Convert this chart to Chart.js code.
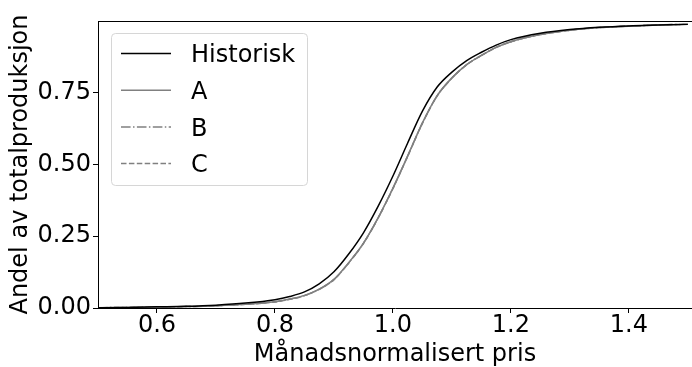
<!DOCTYPE html>
<html>
<head>
<meta charset="utf-8">
<script src="https://cdn.jsdelivr.net/npm/chart.js@4/dist/chart.umd.min.js"></script>
<style>
  html, body { margin: 0; padding: 0; background: #fff; }
  #cdfChart { display: block; }
</style>
</head>
<body>
<canvas id="cdfChart" width="692" height="367"></canvas>
<script>
// Monthly normalised price vs. cumulative share of total production

const prices = [0.50, 0.55, 0.60, 0.65, 0.70, 0.75, 0.80, 0.825, 0.85, 0.875, 0.90, 0.925, 0.95, 0.975,
    1.00, 1.025, 1.05, 1.075, 1.10, 1.125, 1.15, 1.175, 1.20, 1.25, 1.30, 1.35, 1.40, 1.45, 1.50];

const historisk = [0.001, 0.002, 0.004, 0.006, 0.010, 0.017, 0.029, 0.040, 0.056, 0.084, 0.126, 0.188, 0.262, 0.355,
    0.460, 0.575, 0.686, 0.770, 0.822, 0.862, 0.891, 0.916, 0.935, 0.957, 0.970, 0.978, 0.983, 0.986, 0.989];

const scenarioA = [0.001, 0.002, 0.003, 0.005, 0.008, 0.013, 0.022, 0.031, 0.044, 0.066, 0.100, 0.158, 0.226, 0.315,
    0.418, 0.530, 0.645, 0.740, 0.802, 0.848, 0.880, 0.908, 0.928, 0.953, 0.968, 0.977, 0.982, 0.986, 0.989];

const scenarioB = [0.001, 0.002, 0.003, 0.005, 0.008, 0.013, 0.022, 0.031, 0.043, 0.065, 0.099, 0.157, 0.225, 0.314,
    0.417, 0.529, 0.644, 0.739, 0.801, 0.848, 0.880, 0.908, 0.928, 0.953, 0.968, 0.977, 0.982, 0.986, 0.989];

const scenarioC = [0.001, 0.002, 0.003, 0.005, 0.008, 0.013, 0.021, 0.030, 0.043, 0.065, 0.099, 0.157, 0.225, 0.314,
    0.416, 0.529, 0.644, 0.739, 0.801, 0.847, 0.880, 0.908, 0.928, 0.953, 0.968, 0.977, 0.982, 0.986, 0.989];

const xTicks = [0.6, 0.8, 1.0, 1.2, 1.4];
const yTicks = [0, 0.25, 0.5, 0.75];

const FONT = 'DejaVu Sans';

function toPoints(ys) {
    return prices.map((x, i) => ({ x: x, y: ys[i] }));
}

function lineSet(label, ys, color, dash) {
    return {
        label: label,
        data: toPoints(ys),
        borderColor: color,
        borderWidth: 1.5,
        borderDash: dash,
        pointRadius: 0,
        fill: false,
        cubicInterpolationMode: 'monotone'
    };
}

// top spine + legend box in the upper left corner of the plot
const framePlugin = {
    id: 'frame',
    afterDraw(chart) {
        const ctx = chart.ctx;
        const area = chart.chartArea;
        ctx.save();
        ctx.strokeStyle = '#000';
        ctx.lineWidth = 1;
        ctx.beginPath();
        ctx.moveTo(area.left, area.top + 0.5);
        ctx.lineTo(area.right, area.top + 0.5);
        ctx.stroke();

        const box = { x: 111.5, y: 33.5, w: 196, h: 152 };
        ctx.beginPath();
        ctx.roundRect(box.x, box.y, box.w, box.h, 4);
        ctx.fillStyle = 'rgba(255,255,255,0.8)';
        ctx.fill();
        ctx.strokeStyle = '#d6d6d6';
        ctx.stroke();

        ctx.font = '24px "' + FONT + '"';
        ctx.textBaseline = 'alphabetic';
        ctx.textAlign = 'left';
        chart.data.datasets.forEach((ds, i) => {
            const rowY = 53.5 + i * 36.7;
            ctx.save();
            ctx.strokeStyle = ds.borderColor;
            ctx.lineWidth = ds.borderWidth;
            ctx.setLineDash(ds.borderDash || []);
            ctx.beginPath();
            ctx.moveTo(121, rowY);
            ctx.lineTo(171, rowY);
            ctx.stroke();
            ctx.restore();
            ctx.fillStyle = '#000';
            ctx.fillText(ds.label, 191, rowY + 8.7);
        });
        ctx.restore();
    }
};

function initializeCdfChart() {
    const canvas = document.getElementById('cdfChart');
    new Chart(canvas, {
        type: 'line',
        data: {
            datasets: [
                lineSet('Historisk', historisk, '#000000', []),
                lineSet('A', scenarioA, '#808080', []),
                lineSet('B', scenarioB, '#808080', [9.6, 2.4, 1.5, 2.4]),
                lineSet('C', scenarioC, '#808080', [5.5, 2.4])
            ]
        },
        options: {
            responsive: false,
            animation: false,
            devicePixelRatio: 1,
            layout: {
                padding: { top: 21, right: 0, bottom: 0, left: 0 }
            },
            plugins: {
                legend: { display: false },
                tooltip: { enabled: false }
            },
            scales: {
                x: {
                    type: 'linear',
                    min: 0.5,
                    max: 1.507,
                    afterBuildTicks: (scale) => { scale.ticks = xTicks.map(v => ({ value: v })); },
                    afterFit: (scale) => { scale.height = 59; },
                    grid: { drawOnChartArea: false, tickLength: 5, tickColor: '#000' },
                    border: { color: '#000', width: 1 },
                    ticks: {
                        color: '#000',
                        padding: -2,
                        maxRotation: 0,
                        font: { family: FONT, size: 24 },
                        callback: (v) => Number(v).toFixed(1)
                    },
                    title: {
                        display: true,
                        text: 'Månadsnormalisert pris',
                        color: '#000',
                        padding: { top: 0, bottom: -2 },
                        font: { family: FONT, size: 24 }
                    }
                },
                y: {
                    min: 0,
                    max: 1.0,
                    afterBuildTicks: (scale) => { scale.ticks = yTicks.map(v => ({ value: v })); },
                    afterFit: (scale) => { scale.width = 98; },
                    grid: { drawOnChartArea: false, tickLength: 5, tickColor: '#000' },
                    border: { color: '#000', width: 1 },
                    ticks: {
                        color: '#000',
                        padding: 2,
                        font: { family: FONT, size: 24 },
                        callback: (v) => Number(v).toFixed(2)
                    },
                    title: {
                        display: true,
                        text: 'Andel av totalproduksjon',
                        color: '#000',
                        padding: { top: 6, bottom: 0 },
                        font: { family: FONT, size: 24 }
                    }
                }
            }
        },
        plugins: [framePlugin]
    });
}

initializeCdfChart();
</script>
</body>
</html>
